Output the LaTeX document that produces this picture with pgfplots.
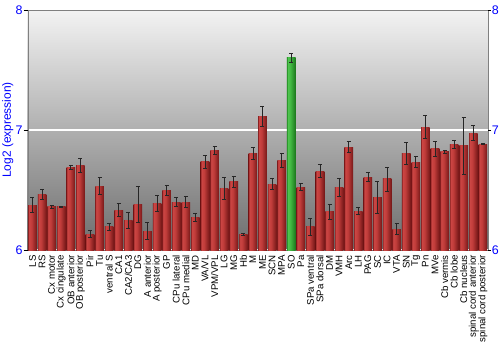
\documentclass[border=0pt]{standalone}
\usepackage{pgfplots}
\pgfplotsset{compat=1.18}
\usepackage{pgfplotstable}
\usepackage{fontspec}
\setmainfont{Liberation Sans}
\definecolor{tickblue}{RGB}{0,0,255}
\definecolor{bgtop}{RGB}{243,243,243}
\definecolor{bgbot}{RGB}{108,108,108}
\definecolor{rA}{RGB}{150,40,40}
\definecolor{rB}{RGB}{204,70,68}
\definecolor{rC}{RGB}{192,60,58}
\definecolor{rD}{RGB}{118,24,24}
\definecolor{gA}{RGB}{40,150,40}
\definecolor{gB}{RGB}{80,196,80}
\definecolor{gC}{RGB}{66,184,66}
\definecolor{gD}{RGB}{28,118,28}
\pgfdeclarehorizontalshading{redbar}{100bp}{color(0bp)=(rA); color(25bp)=(rA); color(30bp)=(rB); color(45bp)=(rC); color(75bp)=(rD); color(100bp)=(rD)}
\pgfdeclarehorizontalshading{greenbar}{100bp}{color(0bp)=(gA); color(25bp)=(gA); color(30bp)=(gB); color(45bp)=(gC); color(75bp)=(gD); color(100bp)=(gD)}

\pgfplotstableread{
x y e
0 6.375 0.064
1 6.464 0.042
2 6.361 0.012
3 6.361 0.004
4 6.689 0.014
5 6.703 0.058
6 6.133 0.030
7 6.533 0.070
8 6.192 0.030
9 6.333 0.057
10 6.244 0.067
11 6.383 0.150
12 6.158 0.072
13 6.389 0.067
14 6.500 0.042
15 6.400 0.038
16 6.400 0.044
17 6.275 0.033
18 6.736 0.056
19 6.828 0.032
20 6.511 0.090
21 6.567 0.044
22 6.131 0.011
23 6.806 0.047
24 7.114 0.080
25 6.550 0.047
26 6.747 0.056
28 6.525 0.028
29 6.194 0.069
30 6.658 0.053
31 6.317 0.061
32 6.519 0.076
33 6.858 0.047
34 6.325 0.028
35 6.608 0.036
36 6.439 0.132
37 6.592 0.100
38 6.175 0.047
39 6.806 0.093
40 6.733 0.044
41 7.025 0.093
42 6.842 0.061
43 6.817 0.011
44 6.883 0.033
45 6.867 0.239
46 6.975 0.061
47 6.883 0.003
}\reddata

\pgfplotstableread{
x y e
27 7.600 0.036
}\greendata

\begin{document}
\begin{tikzpicture}
\begin{axis}[
  name=main,
  scale only axis,
  width=460bp, height=240bp,
  xmin=-0.5, xmax=47.5,
  ymin=6, ymax=8,
  axis background/.style={shade, top color=bgtop, bottom color=bgbot},
  axis line style={gray},
  ytick={6,7,8},
  ytick pos=left,
  tick align=outside,
  major tick length=4bp,
  ytick style={black, line width=0.8pt},
  yticklabel style={font=\fontsize{12.5}{14}\selectfont, text=tickblue, inner sep=1bp},
  /pgf/number format/assume math mode=true,
  ymajorgrids,
  grid style={white, line width=1.2pt},
  xtick={0,...,47},
  xtick style={draw=none},
  xticklabels={LS, RS, Cx motor, Cx cingulate, OB anterior, OB posterior, Pir, Tu, ventral S, CA1, CA2/CA3, DG, A anterior, A posterior, GP, CPu lateral, CPu medial, MD, VA/VL, VPM/VPL, LG, MG, Hb, M, ME, SCN, MPA, SO, Pa, SPa ventral, SPa dorsal, DM, VMH, Arc, LH, PAG, SC, IC, VTA, SN, Tg, Pn, MVe, Cb vermis, Cb lobe, Cb nucleus, spinal cord anterior, spinal cord posterior},
  xticklabel style={rotate=90, anchor=east, font=\fontsize{9.7}{11}\selectfont, inner sep=1bp},
  ylabel={Log2 (expression)},
  every axis y label/.style={at={(axis description cs:0,0.5)}, xshift=-20bp, rotate=90, anchor=center, font=\fontsize{12}{13}\selectfont, text=tickblue},
]
\pgfplotsinvokeforeach{0,...,26,28,29,...,47}{
\addplot[ybar, bar width=8.6bp, bar shift=0pt, draw=none, shading=redbar, forget plot,
  restrict x to domain=#1:#1,
  error bars/.cd, y dir=both, y explicit,
  error bar style={black!85, line width=0.8pt},
  error mark options={black!85, line width=0.8pt, mark size=2bp, rotate=90}]
  table[x=x, y=y, y error=e]{\reddata};
}
\addplot[ybar, bar width=8.6bp, bar shift=0pt, draw=none, shading=greenbar,
  error bars/.cd, y dir=both, y explicit,
  error bar style={black!85, line width=0.8pt},
  error mark options={black!85, line width=0.8pt, mark size=2bp, rotate=90}]
  table[x=x, y=y, y error=e]{\greendata};
\end{axis}
\begin{axis}[
  scale only axis,
  width=460bp, height=240bp,
  xmin=-0.5, xmax=47.5,
  ymin=6, ymax=8,
  hide x axis,
  axis y line*=right,
  y axis line style={draw=none},
  ytick={6,7,8},
  tick align=outside,
  major tick length=3.5bp,
  ytick style={black, line width=0.8pt},
  yticklabel style={font=\fontsize{12.5}{14}\selectfont, text=tickblue, inner sep=0.5bp},
  /pgf/number format/assume math mode=true,
]
\addplot[draw=none] coordinates {(0,6)};
\end{axis}
\pgfresetboundingbox
\path ([xshift=-27.7bp, yshift=-100bp]main.south west) rectangle ([xshift=12.3bp, yshift=10bp]main.north east);
\end{tikzpicture}
\end{document}
